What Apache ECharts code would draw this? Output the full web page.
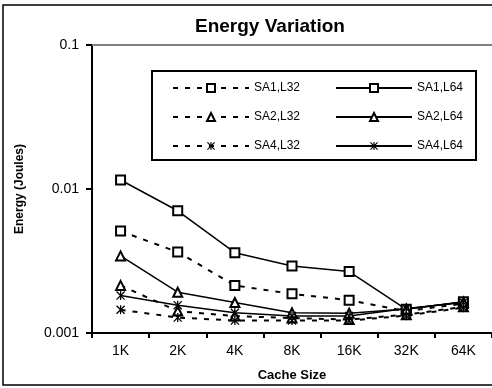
<!DOCTYPE html>
<html>
<head>
<meta charset="utf-8">
<script src="https://cdn.jsdelivr.net/npm/echarts@6/dist/echarts.min.js"></script>
<style>html,body{margin:0;padding:0;background:#fff;}#c{width:492px;height:388px;}</style>
</head>
<body>
<div id="c"></div>
<script>
var categories = ['1K','2K','4K','8K','16K','32K','64K'];
var yTicks = [0.001, 0.01, 0.1];
var sa1L32 = [0.0051, 0.00365, 0.00214, 0.00187, 0.00169, 0.00142, 0.0016];
var sa1L64 = [0.01155, 0.00706, 0.00361, 0.00292, 0.00267, 0.00146, 0.00165];
var sa2L32 = [0.00214, 0.00142, 0.00131, 0.00127, 0.00124, 0.00134, 0.00152];
var sa2L64 = [0.00343, 0.00192, 0.00163, 0.00138, 0.00137, 0.00147, 0.00164];
var sa4L32 = [0.00145, 0.00128, 0.00122, 0.00122, 0.00122, 0.00132, 0.0015];
var sa4L64 = [0.00182, 0.00156, 0.00138, 0.00131, 0.00131, 0.00148, 0.00163];

var AST = 'path://M4.3,0 L5.7,0 L5.7,10 L4.3,10 Z M0,1 L1,0 L10,9 L9,10 Z M9,0 L10,1 L1,10 L0,9 Z';
function mk(name, data, sym, dashed) {
  var isAst = sym === AST;
  return {
    name: name, type: 'line', data: data,
    symbol: sym, symbolSize: 9,
    showAllSymbol: true,
    lineStyle: { color: '#000', width: dashed ? 2 : 1.5, type: dashed ? [5, 7] : 'solid' },
    itemStyle: { color: isAst ? '#000' : '#fff', borderColor: '#000', borderWidth: isAst ? 0 : 2 },
    emphasis: { disabled: true },
    animation: false
  };
}
var chart = echarts.init(document.getElementById('c'), null, { renderer: 'canvas' });
var legendCommon = {
  orient: 'vertical', itemWidth: 76, itemHeight: 10, itemGap: 17,
  textStyle: { fontFamily: 'Liberation Sans, Arial', fontSize: 12, color: '#000' },
  selectedMode: false
};
chart.setOption({
  animation: false,
  backgroundColor: '#fff',
  title: {
    text: 'Energy Variation', left: 195, top: 17, padding: 0,
    textStyle: { fontFamily: 'Liberation Sans, Arial', fontSize: 19, fontWeight: 'bold', color: '#000' }
  },
  graphic: [
    { type: 'rect', shape: { x: 3, y: 5, width: 500, height: 380 }, style: { fill: 'none', stroke: '#000', lineWidth: 1.5 }, z: -10, silent: true },
    { type: 'rect', shape: { x: 152, y: 71, width: 324, height: 89 }, style: { fill: '#fff', stroke: '#000', lineWidth: 2 }, z: 5, silent: true }
  ],
  legend: [
    Object.assign({ left: 167, top: 77, data: ['SA1,L32', 'SA2,L32', 'SA4,L32'], z: 10 }, legendCommon),
    Object.assign({ left: 330, top: 77, data: ['SA1,L64', 'SA2,L64', 'SA4,L64'], z: 10 }, legendCommon)
  ],
  grid: { left: 92, top: 45, bottom: 55, right: -7, containLabel: false },
  xAxis: [{
    type: 'category', data: categories, boundaryGap: true,
    name: 'Cache Size', nameLocation: 'middle', nameGap: 36,
    nameTextStyle: { fontFamily: 'Liberation Sans, Arial', fontSize: 13, fontWeight: 'bold', color: '#000' },
    axisLine: { lineStyle: { color: '#000', width: 2 } },
    axisTick: { show: true, inside: false, length: 5, lineStyle: { color: '#000', width: 2 } },
    axisLabel: { fontFamily: 'Liberation Sans, Arial', fontSize: 14, color: '#000', margin: 11 },
    splitLine: { show: false }
  }, {
    type: 'category', data: categories, position: 'top',
    axisLine: { lineStyle: { color: '#808080', width: 2 } },
    axisTick: { show: false }, axisLabel: { show: false }, splitLine: { show: false }
  }],
  yAxis: {
    type: 'log', logBase: 10, min: yTicks[0], max: yTicks[yTicks.length - 1],
    name: 'Energy (Joules)', nameLocation: 'middle', nameGap: 66, nameRotate: 90,
    nameTextStyle: { fontFamily: 'Liberation Sans, Arial', fontSize: 12, fontWeight: 'bold', color: '#000' },
    axisLine: { show: true, lineStyle: { color: '#000', width: 2 } },
    axisTick: { show: true, inside: false, length: 6, lineStyle: { color: '#000', width: 2 } },
    minorTick: { show: false },
    axisLabel: { fontFamily: 'Liberation Sans, Arial', fontSize: 14, color: '#000', margin: 13,
      formatter: function (v) { return String(+v.toPrecision(3)); } },
    splitLine: { show: false }
  },
  series: [
    mk('SA1,L32', sa1L32, 'rect', true),
    mk('SA1,L64', sa1L64, 'rect', false),
    mk('SA2,L32', sa2L32, 'triangle', true),
    mk('SA2,L64', sa2L64, 'triangle', false),
    mk('SA4,L32', sa4L32, AST, true),
    mk('SA4,L64', sa4L64, AST, false)
  ]
});
</script>
</body>
</html>
